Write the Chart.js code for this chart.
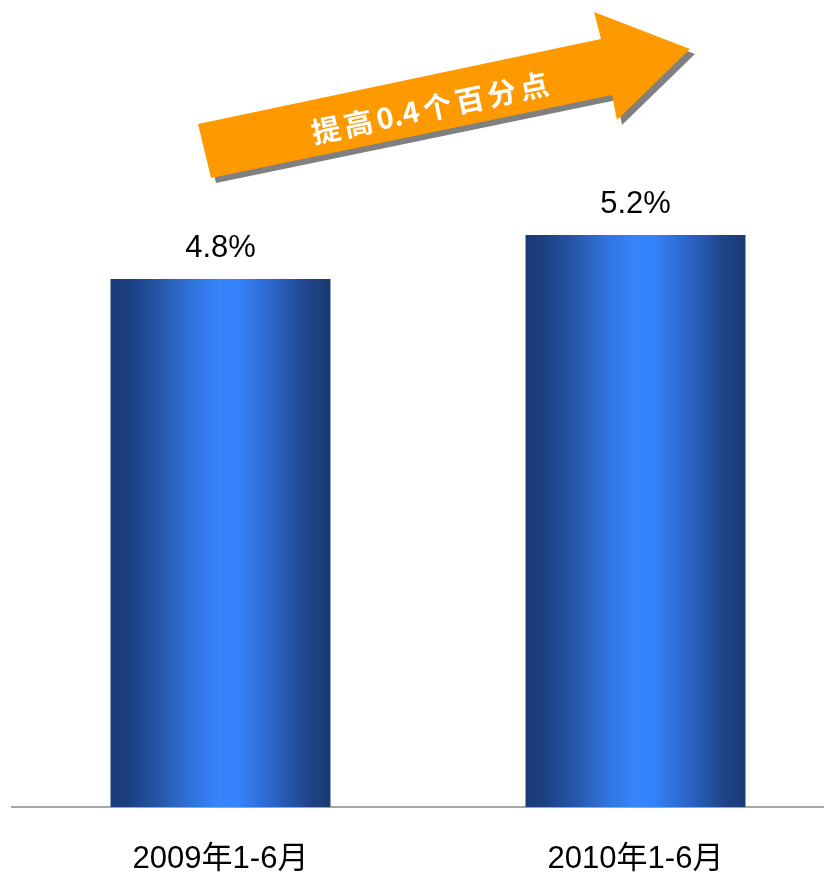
<!DOCTYPE html>
<html><head><meta charset="utf-8">
<script src="https://cdn.jsdelivr.net/npm/chart.js@4"></script>
<style>html,body{margin:0;padding:0;background:#fff;overflow:hidden}</style>
</head><body>
<canvas id="c" width="824" height="878"></canvas>
<script>
const categories = ['2009年1-6月', '2010年1-6月'];
const values = [4.8, 5.2];
const valueLabels = ['4.8%', '5.2%'];
const yTicks = [0, 7];
const arrowText = ['提', '高', '0.4', '个', '百', '分', '点'];

const BAR_PCT = 0.53;
const FONT = '"Liberation Sans", Arial, "Noto Sans CJK SC", sans-serif';

function barGradient(ctx) {
  const chart = ctx.chart;
  const xs = chart.scales && chart.scales.x;
  if (!xs || ctx.dataIndex == null || !chart.chartArea) return '#3784fd';
  const cx = xs.getPixelForValue(ctx.dataIndex);
  const half = (xs.getPixelForValue(1) - xs.getPixelForValue(0)) * BAR_PCT / 2;
  const g = chart.ctx.createLinearGradient(cx - half, 0, cx + half, 0);
  g.addColorStop(0.00, '#1a3a74');
  g.addColorStop(0.08, '#1c3f80');
  g.addColorStop(0.22, '#2656a8');
  g.addColorStop(0.38, '#3275e0');
  g.addColorStop(0.50, '#3784fd');
  g.addColorStop(0.58, '#3583fb');
  g.addColorStop(0.75, '#2b62c4');
  g.addColorStop(0.90, '#1f4589');
  g.addColorStop(1.00, '#1a3a74');
  return g;
}

const labelPlugin = {
  id: 'valueLabels',
  afterDatasetsDraw(chart) {
    const c = chart.ctx;
    const meta = chart.getDatasetMeta(0);
    c.save();
    c.font = '31px ' + FONT;
    c.fillStyle = '#000';
    c.textAlign = 'center';
    c.textBaseline = 'middle';
    meta.data.forEach((bar, i) => {
      c.fillText(valueLabels[i], bar.x, bar.y - 31);
    });
    c.restore();
  }
};

const arrowPlugin = {
  id: 'arrow',
  afterDraw(chart) {
    const c = chart.ctx;
    const pts = [[198, 124], [601, 39], [594, 12], [690, 49], [617, 120], [612, 95], [211, 178]];
    const path = (dx, dy) => {
      c.beginPath();
      pts.forEach((p, i) => i ? c.lineTo(p[0] + dx, p[1] + dy) : c.moveTo(p[0] + dx, p[1] + dy));
      c.closePath();
    };
    c.save();
    path(5, 5); c.fillStyle = '#808080'; c.fill();
    path(0, 0); c.fillStyle = '#ff9900'; c.fill();
    c.translate(430, 108);
    c.rotate(-Math.atan2(85, 403));
    c.font = 'bold 29px "Noto Sans CJK SC", sans-serif';
    c.fillStyle = '#ffffff';
    c.textAlign = 'left';
    c.textBaseline = 'middle';
    const gap = 4;
    const widths = arrowText.map(t => c.measureText(t).width);
    const total = widths.reduce((a, b) => a + b, 0) + gap * (arrowText.length - 1);
    let x = -total / 2;
    arrowText.forEach((t, i) => {
      c.fillText(t, x, 0);
      x += widths[i] + gap;
    });
    c.restore();
  }
};

const xMin = -208.5 / 415;
const xMax = xMin + 812 / 415;

new Chart(document.getElementById('c'), {
  type: 'bar',
  data: {
    datasets: [{
      data: values.map((v, i) => ({ x: i, y: v })),
      backgroundColor: barGradient,
      borderWidth: 0,
      categoryPercentage: 1,
      barPercentage: BAR_PCT
    }]
  },
  options: {
    responsive: false,
    animation: false,
    devicePixelRatio: 1,
    layout: { padding: { top: 37, left: 12, right: 0, bottom: 0 } },
    plugins: { legend: { display: false }, tooltip: { enabled: false } },
    scales: {
      x: {
        type: 'linear',
        offset: false,
        min: xMin,
        max: xMax,
        afterBuildTicks: s => { s.ticks = categories.map((_, i) => ({ value: i })); },
        afterFit: s => { s.height = 71; },
        grid: { display: false, drawTicks: false, offset: false },
        border: { display: true, color: '#a6a6a6', width: 2 },
        ticks: {
          autoSkip: false,
          maxRotation: 0,
          padding: 34,
          color: '#000',
          font: { family: FONT, size: 31 },
          callback: v => categories[v] ?? ''
        }
      },
      y: {
        display: false,
        min: yTicks[0],
        max: yTicks[1]
      }
    }
  },
  plugins: [labelPlugin, arrowPlugin]
});
</script>
</body></html>
